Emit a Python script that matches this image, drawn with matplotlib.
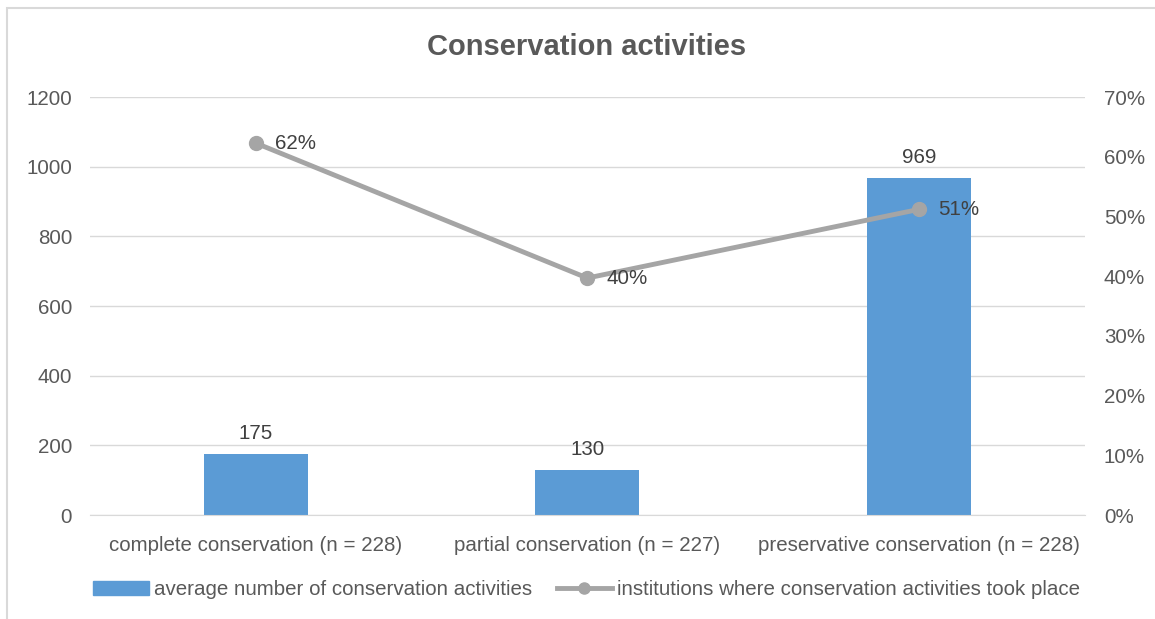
import matplotlib.pyplot as plt
from matplotlib.patches import Rectangle
from matplotlib.ticker import FuncFormatter
from matplotlib.lines import Line2D

plt.rcParams['font.family'] = ['Liberation Sans', 'DejaVu Sans']

categories = [
    'complete conservation (n = 228)',
    'partial conservation (n = 227)',
    'preservative conservation (n = 228)',
]
avg_activities = [175, 130, 969]
share_institutions = [0.623, 0.397, 0.512]
share_labels = ['62%', '40%', '51%']

bar_name = 'average number of conservation activities'
line_name = 'institutions where conservation activities took place'

text_col = '#595959'
grid_col = '#d9d9d9'
bar_col = '#5b9bd5'
line_col = '#a5a5a5'
fs = 14.8

fig = plt.figure(figsize=(11.55, 6.19), dpi=100)
ax = fig.add_axes([0.078, 0.168, 0.861, 0.675])
x = list(range(len(categories)))

ax.bar(x, avg_activities, width=0.314, color=bar_col, zorder=2)
for xi, v in zip(x, avg_activities):
    ax.annotate(str(v), (xi, v), xytext=(0, 8), textcoords='offset points',
                ha='center', va='bottom', fontsize=fs, color='#404040')

ax.set_ylim(0, 1200)
ax.set_yticks(range(0, 1201, 200))
ax.set_xlim(-0.5, 2.5)
ax.set_xticks(x)
ax.set_xticklabels(categories)
ax.yaxis.grid(True, color=grid_col, linewidth=1)
ax.set_axisbelow(True)
for s in ax.spines.values():
    s.set_visible(False)
ax.spines['bottom'].set_visible(True)
ax.spines['bottom'].set_color(grid_col)
ax.tick_params(axis='both', length=0, labelsize=fs, labelcolor=text_col)
ax.tick_params(axis='y', pad=13)
ax.tick_params(axis='x', pad=15)

ax2 = ax.twinx()
ax2.plot(x, share_institutions, color=line_col, linewidth=3.5,
         marker='o', markersize=10, zorder=3)
for xi, v, lab in zip(x, share_institutions, share_labels):
    ax2.annotate(lab, (xi, v), xytext=(14, 0), textcoords='offset points',
                 ha='left', va='center', fontsize=fs, color='#404040')
ax2.set_ylim(0, 0.7)
ax2.set_yticks([i / 10 for i in range(8)])
ax2.yaxis.set_major_formatter(FuncFormatter(lambda v, p: f'{v * 100:.0f}%'))
for s in ax2.spines.values():
    s.set_visible(False)
ax2.tick_params(axis='y', length=0, labelsize=fs, labelcolor=text_col, pad=14)

fig.text(0.508, 0.924, 'Conservation activities', ha='center', va='center',
         fontsize=21, fontweight='bold', color=text_col)

handles = [
    Rectangle((0, 0), 1, 1, color=bar_col),
    Line2D([], [], color=line_col, linewidth=3.5, marker='o', markersize=8),
]
fig.legend(handles, [bar_name, line_name], loc='center', bbox_to_anchor=(0.508, 0.047),
           ncol=2, frameon=False, fontsize=fs, labelcolor=text_col,
           handlelength=2.7, handletextpad=0.25, columnspacing=1.2)

fig.patches.append(Rectangle((7 / 1155, -0.1), 1.2, 1 - 8 / 619 + 0.1,
                             transform=fig.transFigure, fill=False,
                             edgecolor=grid_col, linewidth=1.5))

fig.savefig('out.png', dpi=100)
